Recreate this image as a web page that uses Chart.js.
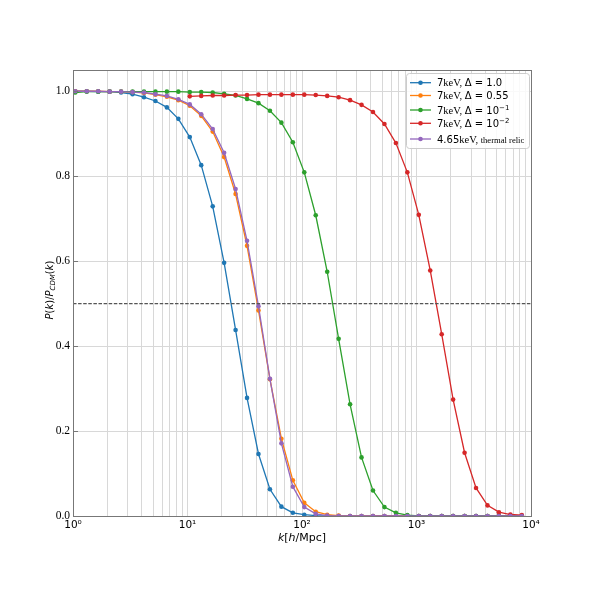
<!DOCTYPE html>
<html><head><meta charset="utf-8">
<script src="https://cdn.jsdelivr.net/npm/chart.js@4.4.1/dist/chart.umd.min.js"></script>
<style>html,body{margin:0;padding:0;background:#fff;}canvas{display:block;}</style>
</head><body>
<canvas id="c" width="590" height="590"></canvas>
<script>
// ---- data ----
const kValues = [1.047, 1.318, 1.660, 2.089, 2.630, 3.311, 4.169, 5.248, 6.607, 8.318,
  10.47, 13.18, 16.60, 20.89, 26.30, 33.11, 41.69, 52.48, 66.07, 83.18,
  104.7, 131.8, 166.0, 208.9, 263.0, 331.1, 416.9, 524.8, 660.7, 831.8,
  1047, 1318, 1660, 2089, 2630, 3311, 4169, 5248, 6607, 8318];
const delta1 = [1.000, 1.000, 0.999, 0.999, 0.997, 0.993, 0.986, 0.977, 0.962, 0.935,
  0.892, 0.826, 0.729, 0.596, 0.438, 0.278, 0.146, 0.063, 0.022, 0.0075,
  0.003, 0.001, 0, 0, 0, 0, 0, 0, 0, 0, 0, 0, 0, 0, 0, 0, 0, 0, 0, 0];
const delta055 = [1.000, 1.000, 1.000, 0.999, 0.999, 0.998, 0.996, 0.992, 0.987, 0.979,
  0.966, 0.942, 0.905, 0.845, 0.758, 0.636, 0.484, 0.322, 0.182, 0.084,
  0.031, 0.010, 0.003, 0.001, 0, 0, 0, 0, 0, 0, 0, 0, 0, 0, 0, 0, 0, 0, 0, 0];
const delta01 = [0.997, 0.999, 0.999, 0.999, 0.999, 0.999, 0.999, 0.999, 0.999, 0.999,
  0.998, 0.998, 0.997, 0.994, 0.990, 0.982, 0.972, 0.954, 0.926, 0.880,
  0.809, 0.708, 0.575, 0.417, 0.263, 0.138, 0.060, 0.021, 0.0075, 0.002,
  0, 0, 0, 0, 0, 0, 0, 0, 0, 0];
const delta001 = [null, null, null, null, null, null, null, null, null, null,
  0.988, 0.989, 0.990, 0.990, 0.991, 0.991, 0.992, 0.992, 0.992, 0.992,
  0.992, 0.991, 0.989, 0.986, 0.979, 0.968, 0.951, 0.923, 0.878, 0.809,
  0.709, 0.578, 0.428, 0.274, 0.149, 0.066, 0.025, 0.009, 0.0035, 0.002];
const thermalRelic = [1.000, 1.000, 1.000, 0.999, 0.999, 0.998, 0.997, 0.993, 0.989, 0.981,
  0.969, 0.946, 0.911, 0.855, 0.770, 0.648, 0.494, 0.323, 0.171, 0.069,
  0.021, 0.005, 0.001, 0, 0, 0, 0, 0, 0, 0, 0, 0, 0, 0, 0, 0, 0, 0, 0, 0];
const halfLevel = 0.5;
const xRange = [1, 10000];
const yRange = [0, 1.05];
const yTickValues = [0.0, 0.2, 0.4, 0.6, 0.8, 1.0];
const xTickLabels = ['10\u2070', '10\u00B9', '10\u00B2', '10\u00B3', '10\u2074'];

// ---- styles ----
const colors = ['#1f77b4', '#ff7f0e', '#2ca02c', '#d62728', '#9467bd'];
const SANS = '"DejaVu Sans"';
const SERIF = '"Liberation Serif"';

function pts(vals) {
  const out = [];
  vals.forEach((v, i) => { if (v !== null) out.push({x: kValues[i], y: v}); });
  return out;
}
const allSeries = [delta1, delta055, delta01, delta001, thermalRelic];
const datasets = allSeries.map((s, i) => ({
  data: pts(s),
  borderColor: colors[i], backgroundColor: colors[i],
  borderWidth: 1.3, pointRadius: 2.3, pointBorderWidth: 0,
  pointBackgroundColor: colors[i], tension: 0, fill: false,
  order: 5 - i
}));
datasets.push({
  data: [{x: xRange[0], y: halfLevel}, {x: xRange[1], y: halfLevel}],
  borderColor: '#555', borderWidth: 1.3, borderDash: [3.5, 1.6],
  pointRadius: 0, fill: false, order: 0
});

// legend rows: text segments
const sf = (s) => s + 'px ' + SANS;
const rf = (s) => s + 'px ' + SERIF;
const legendRows = [
  [{t: '7', f: sf(10)}, {t: 'keV, ', f: rf(10.5)}, {t: '\u0394 = 1.0', f: sf(10)}],
  [{t: '7', f: sf(10)}, {t: 'keV, ', f: rf(10.5)}, {t: '\u0394 = 0.55', f: sf(10)}],
  [{t: '7', f: sf(10)}, {t: 'keV, ', f: rf(10.5)}, {t: '\u0394 = 10', f: sf(10)}, {t: '\u22121', f: sf(7), dy: -4}],
  [{t: '7', f: sf(10)}, {t: 'keV, ', f: rf(10.5)}, {t: '\u0394 = 10', f: sf(10)}, {t: '\u22122', f: sf(7), dy: -4}],
  [{t: '4.65', f: sf(10)}, {t: 'keV, ', f: rf(10.5)}, {t: 'thermal relic', f: rf(8.6)}]
];
const legendRowY = [82.7, 95.5, 110, 123.3, 139];

function drawSegs(ctx, x, y, segs, align) {
  let total = 0;
  segs.forEach(s => { ctx.font = s.f; s.w = ctx.measureText(s.t).width; total += s.w; });
  let cx = align === 'center' ? x - total / 2 : x;
  ctx.textAlign = 'left';
  ctx.textBaseline = 'alphabetic';
  segs.forEach(s => { ctx.font = s.f; ctx.fillText(s.t, cx, y + (s.dy || 0)); cx += s.w; });
}

const decor = {
  id: 'decor',
  afterDraw(chart) {
    const ctx = chart.ctx, a = chart.chartArea;
    const ys = chart.scales.y;
    ctx.save();
    // frame
    ctx.strokeStyle = '#777'; ctx.lineWidth = 1;
    ctx.strokeRect(Math.round(a.left) + 0.5, Math.round(a.top) + 0.5,
      Math.round(a.right - a.left), Math.round(a.bottom - a.top));
    // inward y ticks
    yTickValues.forEach(v => {
      const py = Math.round(ys.getPixelForValue(v)) + 0.5;
      ctx.beginPath(); ctx.moveTo(a.left, py); ctx.lineTo(a.left + 5, py); ctx.stroke();
    });
    // legend
    const lx = 406, ly = 73, lw = 123, lh = 75;
    ctx.fillStyle = 'rgba(255,255,255,0.85)';
    ctx.strokeStyle = '#cccccc';
    ctx.beginPath();
    ctx.roundRect(lx + 0.5, ly + 0.5, lw, lh, 3);
    ctx.fill(); ctx.stroke();
    legendRows.forEach((row, i) => {
      const y = legendRowY[i];
      ctx.strokeStyle = colors[i]; ctx.lineWidth = 1.3;
      ctx.beginPath(); ctx.moveTo(410, y); ctx.lineTo(431, y); ctx.stroke();
      ctx.fillStyle = colors[i];
      ctx.beginPath(); ctx.arc(420.5, y, 2.3, 0, Math.PI * 2); ctx.fill();
      ctx.fillStyle = '#000';
      drawSegs(ctx, 437, y + 3.6, row, 'left');
    });
    // x title
    ctx.fillStyle = '#000';
    const it = (s) => 'italic ' + s + 'px ' + SANS;
    drawSegs(ctx, (a.left + a.right) / 2, 541, [
      {t: 'k', f: it(11)}, {t: '[', f: sf(11)}, {t: 'h', f: it(11)}, {t: '/Mpc]', f: sf(11)}
    ], 'center');
    // y title
    ctx.translate(49, 290);
    ctx.rotate(-Math.PI / 2);
    drawSegs(ctx, 0, 3.5, [
      {t: 'P', f: it(10)}, {t: '(', f: sf(10)}, {t: 'k', f: it(10)}, {t: ')/', f: sf(10)},
      {t: 'P', f: it(10)}, {t: 'CDM', f: it(7), dy: 2}, {t: '(', f: sf(10)}, {t: 'k', f: it(10)}, {t: ')', f: sf(10)}
    ], 'center');
    ctx.restore();
  }
};

new Chart(document.getElementById('c'), {
  type: 'line',
  data: {datasets},
  options: {
    responsive: false, animation: false, devicePixelRatio: 1,
    layout: {padding: {left: 0, top: 70, right: 59, bottom: 0}},
    plugins: {legend: {display: false}, tooltip: {enabled: false}},
    scales: {
      x: {
        type: 'logarithmic', min: xRange[0], max: xRange[1],
        afterBuildTicks(scale) {
          const t = [];
          for (let d = 0; d < 4; d++) for (let m = 1; m <= 9; m++) t.push({value: m * Math.pow(10, d)});
          t.push({value: xRange[1]});
          scale.ticks = t;
        },
        afterFit(scale) { scale.height = 74; },
        grid: {color: '#d8d8d8', lineWidth: 1, drawTicks: false},
        border: {display: true, color: '#777', width: 1},
        ticks: {
          autoSkip: false, maxRotation: 0, minRotation: 0, padding: 3,
          color: '#000', font: {family: 'DejaVu Sans', size: 10.5},
          callback(v) {
            const e = Math.round(Math.log10(v));
            return Math.abs(Math.pow(10, e) - v) < 1e-9 ? xTickLabels[e] : '';
          }
        }
      },
      y: {
        type: 'linear', min: yRange[0], max: yRange[1],
        afterBuildTicks(scale) { scale.ticks = yTickValues.map(v => ({value: v})); },
        afterFit(scale) { scale.width = 73; },
        grid: {color: '#d8d8d8', lineWidth: 1, drawTicks: false},
        border: {display: true, color: '#777', width: 1},
        ticks: {
          padding: 3, color: '#000', font: {family: 'Liberation Serif', size: 11.5},
          callback(v) { return Number(v).toFixed(1); }
        }
      }
    }
  },
  plugins: [decor]
});
</script>
</body></html>
